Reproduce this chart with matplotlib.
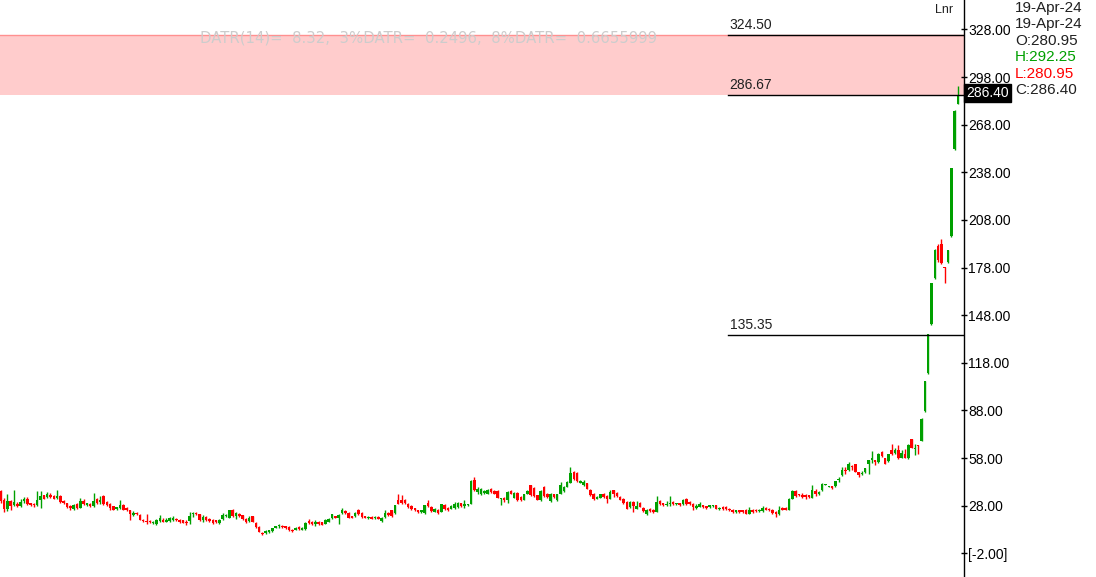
import matplotlib
matplotlib.use("Agg")
import matplotlib.pyplot as plt

plt.rcParams['font.family'] = ['Liberation Sans', 'DejaVu Sans']

# daily candles, oldest first: open, high, low, close
opens = [
    37.5, 31.5, 26, 31, 28.5, 29.3, 27.6, 31, 32.5, 29.7, 29.3, 28.7, 31.4, 34.6, 33.5, 34.6, 34, 33.1, 34, 30.8,
    29.7, 27.6, 26.2, 28.9, 26.8, 31, 28.5, 29.3, 27.6, 32.5, 30.4, 33.9, 30.4, 28.9, 27.6, 25.9, 26.8, 28.7, 26.8, 25.5,
    22.2, 23.4, 22, 19.2, 18.5, 18.4, 17, 16.5, 18.5, 19.2, 17.8, 18.5, 19, 19.8, 19.2, 18.8, 17.8, 18.4, 22.6, 23.6,
    22.6, 18.8, 20.9, 19.8, 19.2, 18.8, 17.1, 19.8, 21.3, 20.3, 25.5, 21.3, 23, 22, 19.8, 18.4, 21.3, 17.1, 14.6, 10.8,
    10.8, 11.2, 11.9, 14.2, 15, 15.5, 15, 14.6, 13, 12.9, 14.6, 12.9, 13.4, 18.4, 17.8, 16.5, 17.8, 17.5, 16.7, 17.8,
    20.3, 21.3, 20.5, 23.4, 24.7, 23.4, 21.3, 21.3, 25.5, 23.4, 21.3, 20.1, 20.9, 20.1, 20.9, 18.4, 20.9, 23.4, 25.1, 23.4,
    31.4, 31.8, 31.8, 29.3, 27.6, 26.4, 25.1, 23.8, 23.4, 29.7, 27.2, 24.2, 25.5, 24.2, 28.3, 26.8, 26.2, 26.6, 27.2, 29.7,
    27.6, 28.3, 29.3, 44.4, 36.6, 35.2, 36, 35.6, 38.8, 37.3, 37.3, 32, 33.1, 31.8, 37.3, 33.1, 36, 33.5, 31.8, 35.6,
    40.8, 39.4, 34.6, 31.4, 39.8, 35.6, 31, 35.2, 31.4, 35.6, 37, 40, 42.5, 49, 48.6, 42.5, 41, 42, 38.1, 35.6,
    32.5, 33.1, 35.6, 34, 32.5, 37.7, 36, 33.5, 32.5, 30.4, 27.2, 30.4, 26.2, 29.7, 26.8, 23, 26.2, 25.5, 24, 31,
    29.7, 28.3, 28.9, 30.4, 28.9, 29.7, 28.9, 32.5, 30.4, 29.3, 26.8, 27.2, 28.3, 27.6, 27.2, 27.6, 28.3, 26, 27.2, 27.2,
    26.2, 25.5, 24, 25.1, 25.1, 25.5, 23, 25.5, 25.5, 24.5, 24.7, 26.8, 26.2, 25.5, 24, 22.6, 26.8, 26.8, 25.5, 32.5,
    37.3, 35.2, 34.8, 34.8, 34.6, 33.1, 37.3, 35.2, 37.7, 41.2, 39.8, 40.2, 40.2, 44.4, 47.2, 50.7, 50.3, 53.3, 54.1, 49,
    47.9, 49, 54.5, 57, 56.6, 55.6, 62.1, 57.9, 56.2, 63.3, 61.2, 63.3, 58.3, 60.8, 58.3, 69.8, 63.5, 65.8, 68.8, 87.7,
    111.4, 142.2, 171.2, 191.4, 192.6, 178.3, 181.5, 197.8, 252.4, 280.95,
]
highs = [
    38, 33, 35.5, 31.5, 37.7, 30.5, 32.5, 33.5, 33.5, 30, 29.5, 37.3, 37.3, 35, 36.6, 36, 35, 38, 34.5, 31.8,
    30, 28.5, 29, 29.5, 33, 32, 30, 29.5, 36, 33, 34, 34.5, 31, 29.5, 28, 27.5, 31.4, 29, 27, 25.5,
    24.5, 24, 22.5, 19.5, 23, 19, 18.5, 19.5, 22, 20, 20.5, 21, 21.5, 20.5, 19.5, 19, 18.8, 24, 24, 24,
    23, 22, 21.3, 20.5, 19.5, 19.2, 19.5, 23.4, 22.6, 25.5, 25.9, 24, 23.4, 22.2, 20.5, 21.3, 21.7, 17.5, 15, 11.2,
    12.5, 12.9, 14, 15.3, 16.7, 15.8, 15.3, 15.5, 13.5, 14.5, 15, 14.5, 17.5, 19.8, 18.2, 18.8, 18.2, 17.8, 19.5, 20.5,
    23, 21.7, 22.6, 26.8, 25.1, 23.8, 21.7, 23.8, 25.9, 23.8, 21.7, 21.3, 21.3, 21.3, 21.3, 20.9, 25.1, 24, 25.5, 28.7,
    35.2, 34.6, 32, 29.7, 28.3, 26.8, 25.5, 25.5, 28.7, 31.4, 27.6, 26.8, 25.9, 29.3, 29.3, 27.2, 28.3, 30.4, 30.4, 30,
    31.8, 29.3, 44, 46, 39.8, 39, 37.7, 38.5, 39.2, 37.7, 37.7, 33, 33.5, 37, 37.7, 36.6, 36.5, 33.9, 35.6, 37.7,
    41, 39.8, 35, 37.7, 40.2, 36, 36, 35.6, 35.6, 43, 40.5, 43.5, 52.4, 50, 49, 44, 44, 42.5, 38.5, 36,
    34, 35.6, 36, 34.5, 37.7, 38.1, 36.6, 34, 33, 30.8, 31, 31, 31, 30.4, 27.2, 26.2, 26.6, 25.9, 33.9, 31.4,
    30, 31, 33.9, 31, 30, 30, 32, 33, 30.8, 29.7, 29.3, 30.4, 28.7, 28, 28.7, 28.7, 28.7, 27.2, 27.6, 27.6,
    26.6, 25.9, 25.5, 25.5, 25.5, 25.9, 27.2, 25.9, 25.9, 25.9, 27.6, 27.2, 26.6, 25.9, 24.5, 27.6, 27.2, 27.2, 33, 38.1,
    38.1, 35.6, 36, 35.5, 35, 40.9, 38.8, 37.3, 42.3, 41.9, 40.6, 40.6, 43.8, 46.1, 52.4, 52.4, 55.4, 53.7, 54.5, 49.3,
    49.7, 52, 57, 62.5, 57, 61.2, 62.5, 58.3, 60.8, 66.7, 64.6, 66, 62.9, 63.5, 66.7, 70.2, 66.7, 66.2, 83.3, 106.8,
    136.3, 168.4, 189.5, 192.6, 195.8, 178.5, 189, 241, 277, 292.25,
]
lows = [
    30, 24, 24.5, 25, 27.7, 27, 27.5, 30, 28.5, 28, 27.5, 28, 26.8, 32, 33, 33, 32, 32.5, 30, 28.9,
    26.8, 25.1, 25.5, 26, 26.5, 28.5, 28, 27, 27, 28.9, 28.9, 28.5, 28, 25.5, 25, 25.5, 26, 25, 24.5, 18.8,
    21.5, 22, 19, 18, 16.7, 16.8, 16.5, 16, 18, 17.5, 17.5, 18, 18.5, 18.5, 17, 16.8, 16, 16.7, 21, 22,
    18.5, 17.8, 18.4, 17.8, 16.3, 17.3, 16.7, 19.2, 20.9, 20, 21, 19.8, 21, 19.2, 17.2, 17.8, 17.5, 14.2, 11.2, 9.6,
    10.4, 10.8, 11.5, 14, 14.2, 14, 13.5, 12, 11.2, 12.5, 13, 12.5, 13, 16.7, 15.8, 15.2, 16, 15.8, 16.3, 17.5,
    19.8, 20.3, 16.7, 23, 23, 20, 20.3, 21, 22.2, 20.5, 20, 19.8, 19.6, 19.8, 19.4, 17.8, 20.5, 21.7, 21, 23,
    28.9, 29, 29, 26.8, 25.5, 24.7, 23.6, 23.4, 23, 27.2, 24.2, 23.8, 23, 23.8, 25.5, 24.7, 25.9, 26.2, 26.8, 27,
    26.8, 27.6, 29, 37.3, 35.2, 35, 35.6, 35.2, 36, 35.2, 32.7, 28.3, 30.4, 29.5, 35.2, 32.7, 31, 31, 31.4, 35.2,
    34.3, 33.5, 31.4, 31, 33.5, 33, 30.6, 33, 31, 35.2, 36.6, 39.5, 42, 44.5, 43, 42, 40.5, 38.5, 34.3, 31.4,
    32, 32.7, 32.7, 29.7, 32, 33.5, 33.5, 31.4, 29.3, 25.9, 26.8, 24.2, 26, 27, 24.2, 22, 24.2, 23.4, 23.8, 28.5,
    27.8, 27.6, 27.6, 28.5, 28.5, 28, 28.5, 28.5, 28.5, 25.5, 26.2, 27, 26.8, 26, 26.8, 27.2, 25.9, 25.5, 25.5, 25.5,
    24.7, 23.6, 23.4, 23.6, 23.6, 22.6, 22.6, 23.6, 24, 24, 24.2, 25.1, 24.7, 23, 20.9, 22.2, 25.1, 25.1, 25.1, 32,
    33.5, 34, 32.7, 32.5, 33.1, 32.9, 34.4, 34.6, 37.3, 40.8, 39.6, 38.5, 39.8, 43.2, 46.5, 48.2, 50, 50.3, 49, 46.1,
    47.5, 48.6, 47.8, 55, 53.5, 55.2, 58.7, 54.1, 55.8, 60, 60.8, 57.5, 58, 57.9, 57.2, 64.2, 59.7, 60.8, 68.5, 87.3,
    111, 141.8, 170.8, 181.3, 180.3, 168, 181, 197.5, 251.8, 280.95,
]
closes = [
    31, 26, 31, 27.6, 30.5, 28, 30.5, 32.5, 29, 28.5, 28.2, 31.4, 34, 32.5, 35.2, 33.5, 32.5, 33.9, 30.5, 29.8,
    27.2, 26.4, 28.3, 26.8, 31, 28.9, 29.5, 27.6, 31, 29.7, 31.8, 29.3, 28.3, 26.8, 25.5, 27.2, 28.3, 25.5, 25.1, 23,
    23.4, 22.6, 19.2, 18.4, 17.5, 17.6, 17.8, 19.2, 20, 18, 19.2, 20.5, 20.5, 18.8, 17.6, 17.1, 17.2, 21.3, 23.2, 22.6,
    18.8, 20.9, 18.8, 18.4, 17.1, 17.8, 19.2, 22, 22.2, 25.1, 21.3, 23.4, 21.7, 19.8, 17.8, 20.5, 17.8, 14.6, 11.5, 10,
    11.9, 12.5, 13.8, 15, 16, 14.4, 14, 12.5, 11.9, 14.2, 13.4, 14.2, 17.1, 17.1, 16.3, 17.5, 16.3, 16.1, 18.8, 19.8,
    22.6, 20.5, 22, 25.1, 23.4, 20.5, 20.5, 23.4, 22.6, 20.9, 20.3, 20.9, 19.9, 20.9, 19.6, 20.5, 23.4, 22, 21.3, 28.3,
    29.3, 29.7, 29.7, 27.2, 26.2, 25.1, 23.8, 25.1, 28.3, 27.6, 24.7, 26.2, 23.4, 28.9, 26.2, 25.1, 27.6, 29.3, 29.7, 27.6,
    28.9, 29.1, 43.6, 38.1, 38.8, 38.8, 37.3, 38.1, 36.6, 35.6, 33.1, 32.5, 31.8, 36.6, 35.6, 36, 31.4, 31.4, 35.2, 37.3,
    34.6, 33.9, 31.8, 37.3, 33.9, 33.5, 35.6, 33.5, 35.2, 41, 40, 43, 48.6, 45, 43.6, 43.6, 43.2, 38.8, 34.6, 32.5,
    33.5, 35.2, 33.5, 32.5, 36.6, 35.6, 33.9, 31.8, 29.7, 26.2, 30.4, 27.6, 27.6, 27.2, 24.7, 25.5, 24.7, 24, 30.4, 28.9,
    28.3, 29.3, 29.3, 28.9, 29.7, 28.3, 31.4, 28.9, 28.9, 27.2, 27.6, 28.9, 27.2, 26.4, 28.3, 28.3, 26.2, 26.8, 26, 26,
    25.1, 24, 25.1, 24, 24, 23, 25.1, 24, 24.5, 25.5, 26.8, 25.5, 25.1, 23.4, 22.6, 25.5, 25.5, 25.5, 32.5, 37.3,
    33.9, 34.6, 33.5, 33.5, 33.5, 37.7, 35.2, 36.4, 41.9, 41.6, 40.2, 39, 43.4, 44.8, 50.7, 49.9, 54.1, 52.4, 49.3, 47.2,
    48.2, 51.6, 56.6, 58.3, 55.4, 60.8, 59.1, 54.5, 60.4, 60.4, 63.3, 57.9, 61.2, 58.3, 66.1, 64.6, 64.6, 65.4, 82.9, 106.4,
    135.9, 168, 188.8, 182.5, 181, 177.6, 188.8, 240.7, 276.4, 286.40,
]

# horizontal levels and the shaded zone
levels = [324.50, 286.67, 135.35]
zone = (286.67, 324.50)
last_close = 286.40

yticks = [-2, 28, 58, 88, 118, 148, 178, 208, 238, 268, 298, 328]

info_lines = ['19-Apr-24', '19-Apr-24', 'O:280.95', 'H:292.25', 'L:280.95', 'C:286.40']
info_colors = ['#202020', '#202020', '#202020', '#00a000', '#ff0000', '#202020']

datr_text = 'DATR(14)=  8.32,  3%DATR=  0.2496,  8%DATR=  0.6655999'

GREEN = '#00a000'
RED = '#ff0000'

n = len(closes)
xs = list(range(n))

fig = plt.figure(figsize=(10.96, 5.77), dpi=100)
ax = fig.add_axes([0, 0, 964 / 1096, 1])

# shaded zone
ax.axhspan(zone[0], zone[1], facecolor='#ffcccc', edgecolor='none', zorder=0)
ax.axhline(zone[1], color='#ff9090', lw=1, zorder=0.5)

# candles
colors = [GREEN if c >= o else RED for o, c in zip(opens, closes)]
ax.vlines(xs, lows, highs, colors=colors, lw=1, zorder=2)
bottoms = [min(o, c) for o, c in zip(opens, closes)]
heights = [max(abs(c - o), 0.7) for o, c in zip(opens, closes)]
ax.bar(xs, heights, bottom=bottoms, width=0.76, color=colors, linewidth=0, zorder=3)

# levels on the right part
for lv in levels:
    ax.axhline(lv, xmin=0.755, xmax=1, color='black', lw=1, zorder=4)
    ax.annotate('%.2f' % lv, xy=(0.757, lv), xycoords=('axes fraction', 'data'),
                xytext=(0, 2), textcoords='offset points',
                ha='left', va='bottom', fontsize=10, color='#202020')

ax.set_xlim(-0.24, -0.24 + 964 / 3.312)
ax.set_ylim(-16.9, 346.5)

# axes styling
for side in ['left', 'top', 'bottom']:
    ax.spines[side].set_visible(False)
ax.spines['right'].set_color('black')
ax.spines['right'].set_linewidth(1)
ax.set_xticks([])
ax.yaxis.tick_right()
ax.set_yticks(yticks)
ax.set_yticklabels(['[%.2f]' % t if t < 0 else '%.2f' % t for t in yticks])
ax.tick_params(axis='y', direction='inout', length=4, width=1, pad=1,
               labelsize=10, labelcolor='black', color='black')

# last price tag
ax.annotate('%.2f' % last_close, xy=(1, last_close), xycoords=('axes fraction', 'data'),
            xytext=(1.6, 1.5), textcoords='offset points', ha='left', va='center',
            fontsize=10, color='white',
            bbox=dict(boxstyle='square,pad=0.15', fc='black', ec='black'))

# header texts
fig.text(200 / 1096, 1 - 38 / 577, datr_text, ha='left', va='center',
         fontsize=10.7, color='#cccccc', family='DejaVu Sans')
fig.text(953 / 1096, 1 - 10 / 577, 'Lnr', ha='right', va='center', fontsize=9, color='#202020')

for k, (txt, col) in enumerate(zip(info_lines, info_colors)):
    fig.text(1015 / 1096, 1 - (8 + 16.4 * k) / 577, txt, ha='left', va='center',
             fontsize=11, color=col)

fig.savefig('out.png', dpi=100)
